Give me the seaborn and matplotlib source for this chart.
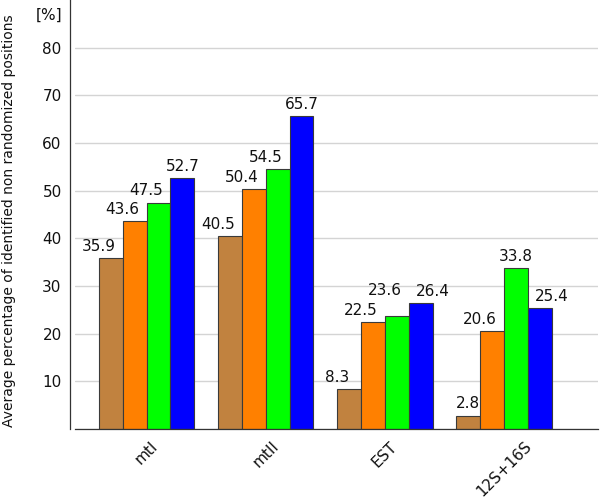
# grouped bar chart: non randomized positions per marker set

import pandas as pd
from matplotlib import pyplot as plt
import seaborn as sns

groups = ['mtI', 'mtII', 'EST', '12S+16S']
series = ['s1', 's2', 's3', 's4']
values = [
    [35.9, 43.6, 47.5, 52.7],   # mtI
    [40.5, 50.4, 54.5, 65.7],   # mtII
    [8.3, 22.5, 23.6, 26.4],    # EST
    [2.8, 20.6, 33.8, 25.4],    # 12S+16S
]
colors = ['#c1823f', '#ff8000', '#00ff00', '#0000ff']
y_ticks = [0, 10, 20, 30, 40, 50, 60, 70, 80]
y_label = 'Average percentage of identified non randomized positions'

# where each value label sits: -1 left edge, 0 centre, +1 right edge of its bar
label_side = [
    [-1, -1, -1, 0],
    [-1, -1, -1, 0],
    [-1, -1, -1, 1],
    [0, -1, 0, 1],
]
# extra lift (points) for labels pushed up to avoid a neighbour
label_lift = [
    [0, 0, 0, 0],
    [0, 0, 0, 0],
    [0, 0, 10, 0],
    [0, 0, 0, 0],
]


def bar_chart( name = 'out.png' ):
    rows = []
    for g, vals in zip( groups, values ):
        for s, v in zip( series, vals ):
            rows.append( dict( group = g, series = s, value = v ) )
    df = pd.DataFrame( rows )

    sns.set_theme( style = 'white' )
    plt.rcParams['font.family'] = ['DejaVu Sans']

    fig = plt.figure( figsize = (6, 4.98), dpi = 100 )
    ax = fig.add_axes( [0.125, 0.1386, 0.872, 0.8614] )

    sns.barplot( data = df, x = 'group', y = 'value', hue = 'series', order = groups,
                 hue_order = series, palette = colors, saturation = 1, edgecolor = '#3a3a3a',
                 linewidth = 0.8, width = 0.8, gap = 0, legend = False, ax = ax )

    for j, cont in enumerate( ax.containers ):
        for i, bar in enumerate( cont ):
            x = bar.get_x() + bar.get_width() / 2 * (1 + label_side[i][j])
            ax.annotate( '%.1f' % values[i][j], ( x, bar.get_height() ),
                         xytext = (0, 3 + label_lift[i][j]), textcoords = 'offset points',
                         ha = 'center', va = 'bottom', fontsize = 11, color = '#111111' )

    ax.set_xlim( -0.6, 3.79 )
    ax.set_ylim( 0, 90 )
    ax.set_yticks( y_ticks )
    ax.set_yticklabels( [''] + [str(t) for t in y_ticks[1:]] )
    ax.set_xticks( range(len(groups)) )
    ax.set_xticklabels( groups, rotation = 45, ha = 'center', va = 'top' )
    ax.set_xticks( [-0.6, 3.79], minor = True )

    ax.set_axisbelow( True )
    ax.yaxis.grid( True, color = '#d4d4d4', linewidth = 1 )
    ax.xaxis.grid( False )

    for s in ['top', 'right']:
        ax.spines[s].set_visible( False )
    for s in ['left', 'bottom']:
        ax.spines[s].set_color( '#333333' )
        ax.spines[s].set_linewidth( 0.9 )
    ax.spines['left'].set_position( ('outward', 3.6) )

    ax.tick_params( axis = 'both', which = 'both', direction = 'out', length = 4, width = 0.8,
                    color = '#333333', labelsize = 11, labelcolor = '#111111', pad = 2 )
    ax.tick_params( axis = 'x', pad = 3 )

    ax.set_xlabel( '' )
    ax.set_ylabel( y_label, fontsize = 10, color = '#111111' )
    ax.yaxis.set_label_coords( -0.112, 0.485 )
    ax.text( -0.025, 0.982, '[%]', transform = ax.transAxes, ha = 'right', va = 'top',
             fontsize = 11, color = '#111111' )

    plt.savefig( name, dpi = 100 )


if __name__ == '__main__':
    bar_chart( 'out.png' )
